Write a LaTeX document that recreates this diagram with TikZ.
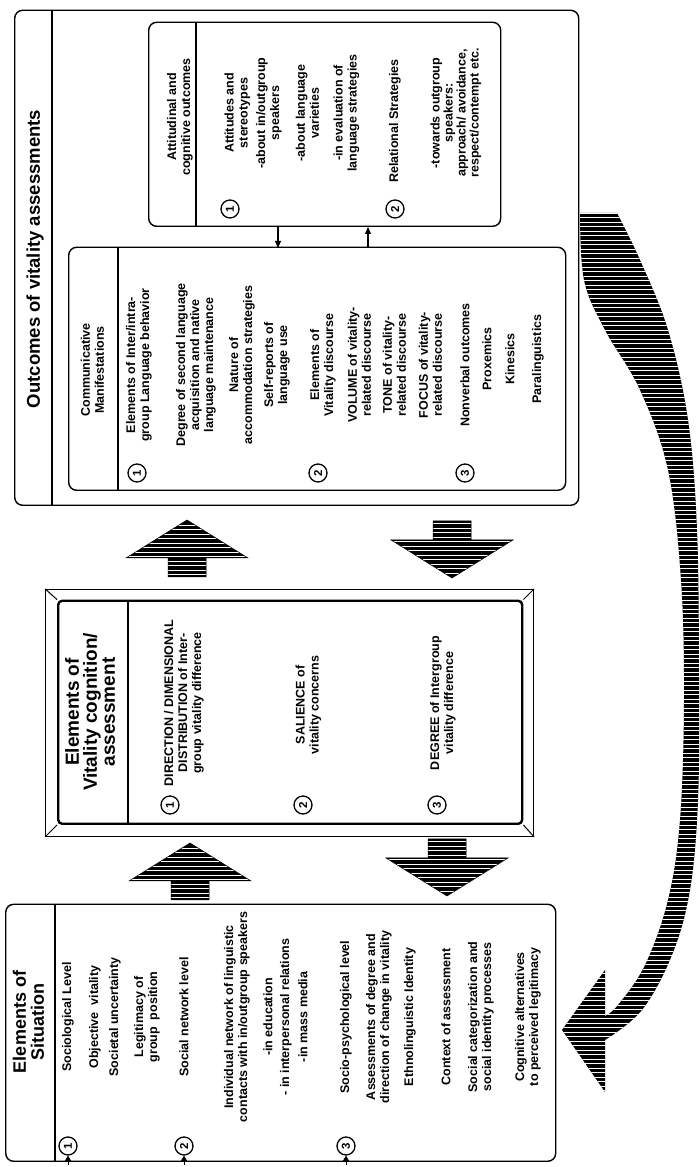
\documentclass[tikz,border=0pt]{standalone}
\usepackage{fontspec}
\setmainfont{Liberation Sans}
\usetikzlibrary{arrows.meta}
\tikzset{
  box/.style={draw, line width=1.4pt, rounded corners=8pt, inner sep=0pt, anchor=north west},
  sepline/.style={line width=1.1pt},
  txt/.style={font=\fontsize{12.5}{14}\selectfont\bfseries, align=center, inner sep=0pt},
  txtb/.style={font=\fontsize{12.5}{13}\selectfont\bfseries, align=center, inner sep=0pt},
  ttl/.style={font=\fontsize{18}{18}\selectfont\bfseries, align=center, inner sep=0pt},
  num/.style={circle, draw, line width=1.3pt, minimum size=18pt, inner sep=0pt, font=\fontsize{11.5}{11.5}\selectfont\bfseries},
  smallarrow/.style={-{Triangle[length=7pt,width=6pt]}, line width=1.1pt},
  marker/.style={-{Triangle[length=6pt,width=7pt]}, line width=0.8pt},
  streak/.style={white, line width=0.3pt},
  blockarr/.pic={
    \begin{scope}
      \clip (0,-19) -- (19,-19) -- (19,-61) -- (57,0) -- (19,61) -- (19,19) -- (0,19) -- cycle;
      \fill[black] (-1,-63) rectangle (58,63);
      \foreach \t in {2.5,7,...,56} {\draw[streak] (\t,-63) -- (\t,63);}
    \end{scope}
    \draw[line width=0.5pt] (0,-19) -- (19,-19) -- (19,-61) -- (57,0) -- (19,61) -- (19,19) -- (0,19) -- cycle;
  }
}
\begin{document}
\begin{tikzpicture}[x=1pt,y=1pt]
\useasboundingbox (0,0) rectangle (700,1167);
\begin{scope}[rotate=90, transform shape]
% ---------------- Elements of Situation ----------------
\node[box, minimum width=257pt, minimum height=550pt] (sit) at (5,-5) {};
\draw[sepline] (5,-55) -- (262,-55);
\node[ttl] (sitT) at (145,-28.5) {Elements of\\Situation};
\node[num] (s1) at (21,-68) {1};
\node[num] (s2) at (21,-184) {2};
\node[num] (s3) at (21,-346) {3};
\coordinate (m1) at (2,-68); \coordinate (m2) at (2,-184); \coordinate (m3) at (2,-346);
\draw[marker] (m1) -- (s1.west);
\draw[marker] (m2) -- (s2.west);
\draw[marker] (m3) -- (s3.west);
\node[txt] (sa) at (150,-68) {Sociological Level};
\node[txt] (sb) at (150,-95) {Objective\ \ vitality};
\node[txt] (sc) at (150,-115) {Societal uncertainty};
\node[txt] (sd) at (150,-147) {Legitimacy of\\group\ \ position};
\node[txt] (se) at (150,-184) {Social network level};
\node[txt] (sf) at (150,-237) {Individual network of linguistic\\contacts with in/outgroup speakers};
\node[txt] (sg) at (150,-268) {-in education};
\node[txt] (sh) at (150,-286) {- in interpersonal relations};
\node[txt] (si) at (150,-303) {-in mass media};
\node[txt] (sj) at (150,-346) {Socio-psychological level};
\node[txt] (sk) at (150,-379) {Assessments of degree and\\direction of change in vitality};
\node[txt] (sl) at (150,-410) {Ethnolinguistic Identity};
\node[txt] (sm) at (150,-446) {Context of assessment};
\node[txt] (sn) at (150,-481) {Social categorization and\\social identity processes};
\node[txt] (so) at (150,-528) {Cognitive alternatives\\to perceived legitimacy};
% ---------------- Elements of Vitality cognition ----------------
\node[draw, line width=1.2pt, inner sep=0pt, minimum width=247pt, minimum height=488pt, anchor=north west] (midO) at (330,-45) {};
\node[draw, line width=2.4pt, rounded corners=4pt, inner sep=0pt, minimum width=223pt, minimum height=464pt, anchor=north west] (midI) at (342,-57) {};
\draw[line width=1pt] (midO.north west) -- (midI.north west);
\draw[line width=1pt] (midO.north east) -- (midI.north east);
\draw[line width=1pt] (midO.south west) -- (midI.south west);
\draw[line width=1pt] (midO.south east) -- (midI.south east);
\draw[sepline] (342,-128) -- (565,-128);
\node[font=\fontsize{19}{18}\selectfont\bfseries, align=center, inner sep=0pt] (midT) at (455,-90) {Elements of\\Vitality cognition/\\assessment};
\node[num] (v1) at (362,-170) {1};
\node[num] (v2) at (362,-303) {2};
\node[num] (v3) at (362,-437) {3};
\node[txt] (va) at (464,-184) {DIRECTION / DIMENSIONAL\\DISTRIBUTION of Inter-\\group vitality difference};
\node[txt] (vb) at (462,-308.5) {SALIENCE of\\vitality concerns};
\node[txt] (vc) at (464,-443) {DEGREE of Intergroup\\vitality difference};
% ---------------- Outcomes ----------------
\node[box, minimum width=495pt, minimum height=564pt] (out) at (661,-14) {};
\draw[sepline] (661,-52) -- (1156,-52);
\node[font=\fontsize{18.5}{18}\selectfont\bfseries, inner sep=0pt] (outT) at (908,-35) {Outcomes of vitality assessments};
% Communicative manifestations
\node[box, minimum width=243pt, minimum height=497pt] (comm) at (676,-68) {};
\draw[sepline] (676,-118) -- (919,-118);
\node[txt] (cT) at (797,-92.5) {Communicative\\Manifestations};
\node[num] (c1) at (694,-137) {1};
\node[num] (c2) at (694,-318) {2};
\node[num] (c3) at (694,-465) {3};
\node[txt] (ca) at (802,-139) {Elements of Inter/intra-\\group Language behavior};
\node[txt] (cb) at (802,-196) {Degree of second language\\acquisition and native\\language maintenance};
\node[txt] (cc) at (802,-242) {Nature of\\accommodation strategies};
\node[txt] (cd) at (802,-277) {Self-reports of\\language use};
\node[txt] (ce) at (802,-323) {Elements of\\Vitality discourse};
\node[txt] (cf) at (802,-359.5) {VOLUME of vitality-\\related discourse};
\node[txt] (cg) at (802,-394.5) {TONE of vitality-\\related discourse};
\node[txt] (ch) at (802,-430.5) {FOCUS of vitality-\\related discourse};
\node[txt] (ci) at (802,-465) {Nonverbal outcomes};
\node[txt] (cj) at (808,-487) {Proxemics};
\node[txt] (ck) at (808,-510) {Kinesics};
\node[txt] (cl) at (808,-538) {Paralinguistics};
% Attitudinal and cognitive outcomes
\node[box, minimum width=204pt, minimum height=352pt] (att) at (940,-148) {};
\draw[sepline] (940,-196) -- (1144,-196);
\node[txt] (aT) at (1050,-180) {Attitudinal and\\cognitive outcomes};
\node[num] (a1) at (958,-230) {1};
\node[num] (a2) at (958,-395) {2};
\node[txt] (aa) at (1054,-237.5) {Attitudes and\\stereotypes};
\node[txt] (ab) at (1054,-269) {-about in/outgroup\\speakers};
\node[txt] (ac) at (1054,-307.5) {-about language\\varieties};
\node[txt] (ad) at (1054,-346.5) {-in evaluation of\\language strategies};
\node[txt] (ae) at (1046,-395) {Relational Strategies};
\node[txtb] (af) at (1054,-456) {-towards outgroup\\speakers:\\approach/ avoidance,\\respect/contempt etc.};
% small arrows between the two outcome boxes
\coordinate (k1) at (940,-278); \coordinate (k2) at (919,-278);
\coordinate (k3) at (919,-368); \coordinate (k4) at (940,-368);
\draw[smallarrow] (k1) -- (k2);
\draw[smallarrow] (k3) -- (k4);
% ---------------- block arrows ----------------
\pic (arA) at (267,-190) {blockarr};
\pic (arB) at (590,-187) {blockarr};
\pic[rotate=180] (arC) at (646,-452) {blockarr};
\pic[rotate=180] (arD) at (328,-447) {blockarr};
% ---------------- curved feedback arrow ----------------
\begin{scope}
\clip plot[smooth, tension=0.6] coordinates {(954,-580) (887,-584) (837,-605) (777,-640) (697,-668) (587,-681) (467,-684) (347,-680) (267,-668) (202,-645) (162,-618) (151,-605)}
  -- (197,-605) -- (137,-562) -- (75,-605) -- plot[smooth, tension=0.6] coordinates {(127,-605) (157,-642) (212,-672) (277,-690) (367,-698) (487,-699) (637,-697) (747,-688) (837,-668) (907,-640) (954,-617)} -- cycle;
\fill[black] (70,-555) rectangle (960,-705);
\foreach \u in {72,76.5,...,960} {\draw[streak] (\u,-555) -- (\u,-705);}
\end{scope}
\end{scope}
\end{tikzpicture}
\end{document}
